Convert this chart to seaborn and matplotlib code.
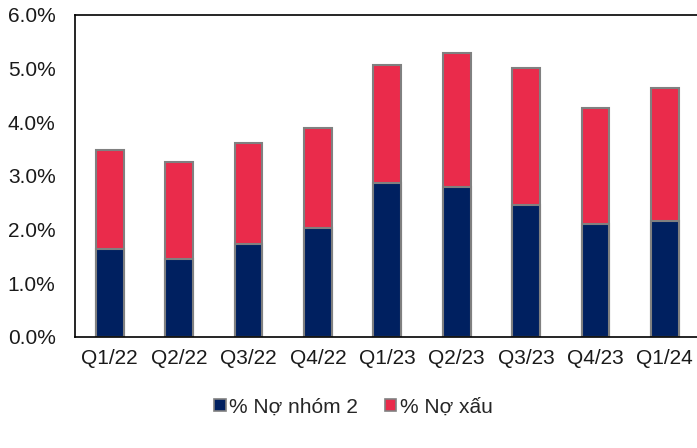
import matplotlib
matplotlib.use('Agg')
import matplotlib.pyplot as plt
import seaborn as sns
from matplotlib.patches import Patch
from matplotlib.ticker import FuncFormatter

quarters = ['Q1/22', 'Q2/22', 'Q3/22', 'Q4/22', 'Q1/23', 'Q2/23', 'Q3/23', 'Q4/23', 'Q1/24']
no_nhom2 = [1.64, 1.45, 1.73, 2.03, 2.87, 2.79, 2.46, 2.10, 2.16]
no_xau = [1.84, 1.81, 1.88, 1.86, 2.20, 2.50, 2.55, 2.16, 2.48]
totals = [a + b for a, b in zip(no_nhom2, no_xau)]

navy = '#002060'
red = '#EA2B4B'
edge = '#808080'

sns.set_style('white')
plt.rcParams['font.family'] = ['Liberation Sans', 'DejaVu Sans']

fig = plt.figure(figsize=(6.97, 4.48), dpi=100)
ax = fig.add_axes([0.1076, 0.2478, 0.896, 0.71875])

sns.barplot(x=quarters, y=totals, color=red, width=0.4, edgecolor=edge,
            linewidth=1.5, saturation=1, ax=ax)
sns.barplot(x=quarters, y=no_nhom2, color=navy, width=0.4, edgecolor=edge,
            linewidth=1.5, saturation=1, ax=ax)

ax.set_xlim(-0.5, 8.5)
ax.set_ylim(0, 6)
ax.set_yticks([0, 1, 2, 3, 4, 5, 6])
ax.yaxis.set_major_formatter(FuncFormatter(lambda v, p: f'{v:.1f}%'))
ax.tick_params(axis='both', length=0, labelsize=15, colors='#1a1a1a')
ax.tick_params(axis='y', pad=14)
ax.tick_params(axis='x', pad=9)
for s in ['left', 'bottom', 'top']:
    ax.spines[s].set_color('black')
    ax.spines[s].set_linewidth(1.2)
ax.spines['right'].set_visible(False)

handles = [Patch(facecolor=navy, edgecolor=edge, linewidth=1.2, label='% Nợ nhóm 2'),
           Patch(facecolor=red, edgecolor=edge, linewidth=1.2, label='% Nợ xấu')]
fig.legend(handles=handles, loc='center', bbox_to_anchor=(0.507, 0.0915), ncol=2,
           frameon=False, fontsize=15, handlelength=0.55, handleheight=0.55,
           handletextpad=0.15, columnspacing=1.3)

fig.savefig('out.png', dpi=100)
